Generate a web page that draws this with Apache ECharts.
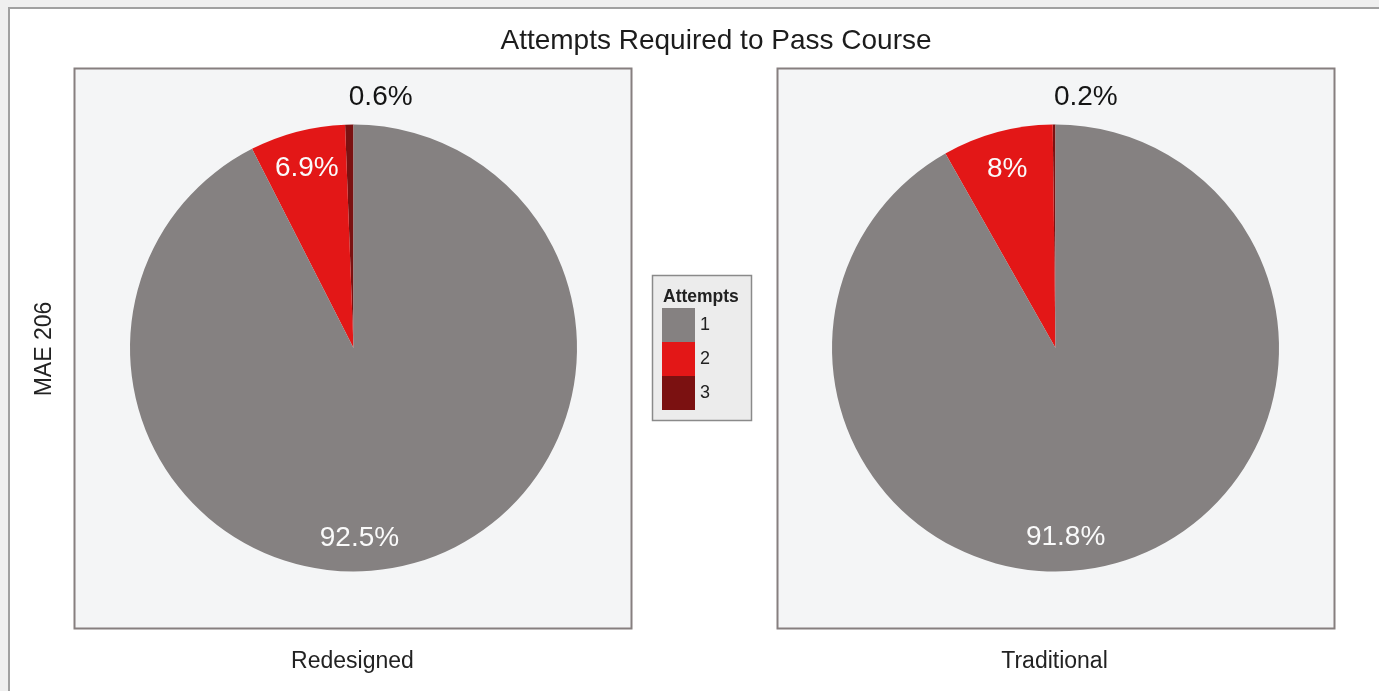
<!DOCTYPE html>
<html>
<head>
<meta charset="utf-8">
<script src="https://cdn.jsdelivr.net/npm/echarts@6/dist/echarts.min.js"></script>
<style>
  html, body { margin: 0; padding: 0; background: #efefef; }
  #chart { width: 1379px; height: 691px; }
</style>
</head>
<body>
<div id="chart"></div>
<script>
// Share of students (%) by number of attempts needed to pass MAE 206.
// Slice order runs counter-clockwise from 12 o'clock: 3 attempts, 2 attempts, 1 attempt.
const sliceNames = ['3', '2', '1'];
const legendOrder = ['1', '2', '3'];
const redesigned = [0.6, 6.9, 92.5];
const traditional = [0.2, 8, 91.8];
const panelNames = ['Redesigned', 'Traditional'];

// Layout / style constants
const FONT = 'Liberation Sans, Arial, sans-serif';
const COLORS = { '1': '#858181', '2': '#e31717', '3': '#7b1111' };
const PIE_R = 223.5;
const PIE_CENTERS = [[353.5, 348], [1055.5, 348]];
const LABEL_RADIUS = [1.12, 0.83, 0.875];      // per slice, as a fraction of the pie radius
const LABEL_ALIGN = ['left', 'center', 'right'];
const LABEL_COLOR = ['#141414', '#fafafa', '#fafafa'];

const seriesValues = [redesigned, traditional];

function labelAnchor(seriesIndex, dataIndex) {
  const vals = seriesValues[seriesIndex];
  const total = vals.reduce((a, b) => a + b, 0);
  let before = 0;
  for (let k = 0; k < dataIndex; k++) before += vals[k];
  const theta = (before + vals[dataIndex] / 2) / total * Math.PI * 2;
  const r = PIE_R * LABEL_RADIUS[dataIndex];
  const c = PIE_CENTERS[seriesIndex];
  return { x: c[0] - r * Math.sin(theta), y: c[1] - r * Math.cos(theta) };
}

function pieSeries(idx) {
  return {
    type: 'pie',
    name: panelNames[idx],
    center: PIE_CENTERS[idx],
    radius: PIE_R,
    startAngle: 90,
    clockwise: false,
    avoidLabelOverlap: false,
    silent: true,
    emphasis: { disabled: true },
    itemStyle: { borderWidth: 0 },
    label: {
      show: true,
      position: 'inside',
      formatter: '{c}%',
      fontFamily: FONT,
      fontSize: 28
    },
    labelLine: { show: false },
    labelLayout: function (p) {
      const a = labelAnchor(p.seriesIndex, p.dataIndex);
      return { x: a.x, y: a.y, align: LABEL_ALIGN[p.dataIndex], verticalAlign: 'middle' };
    },
    data: sliceNames.map((n, i) => ({
      name: n,
      value: seriesValues[idx][i],
      itemStyle: { color: COLORS[n] },
      label: { color: LABEL_COLOR[i] }
    }))
  };
}

const chart = echarts.init(document.getElementById('chart'), null, { renderer: 'canvas' });

const option = {
  animation: false,
  backgroundColor: '#efefef',
  title: {
    text: 'Attempts Required to Pass Course',
    left: 711,
    top: 22,
    textAlign: 'center',
    textStyle: { fontFamily: FONT, fontSize: 28, fontWeight: 'normal', color: '#1c1c1c' }
  },
  legend: {
    data: legendOrder,
    orient: 'vertical',
    left: 662,
    top: 308,
    padding: 0,
    itemGap: 0,
    itemWidth: 33,
    itemHeight: 34,
    icon: 'rect',
    selectedMode: false,
    textStyle: { fontFamily: FONT, fontSize: 18, color: '#222' }
  },
  graphic: [
    // page frame
    { type: 'rect', shape: { x: 9, y: 8, width: 1420, height: 720 },
      style: { fill: '#ffffff', stroke: '#a0a0a0', lineWidth: 2 }, z: -10 },
    // panels
    { type: 'rect', shape: { x: 74.5, y: 68.5, width: 557, height: 560 },
      style: { fill: '#f4f5f6', stroke: '#867f7f', lineWidth: 2 }, z: -5 },
    { type: 'rect', shape: { x: 777.5, y: 68.5, width: 557, height: 560 },
      style: { fill: '#f4f5f6', stroke: '#867f7f', lineWidth: 2 }, z: -5 },
    // legend box
    { type: 'rect', shape: { x: 652.5, y: 275.5, width: 99, height: 145 },
      style: { fill: '#ececec', stroke: '#8a8a8a', lineWidth: 1.5 }, z: -5 },
    { type: 'text', x: 663, y: 297,
      style: { text: 'Attempts', fontFamily: FONT, fontSize: 17.5, fontWeight: 'bold',
               fill: '#222', verticalAlign: 'middle', align: 'left' } },
    // panel labels
    { type: 'text', x: 45, y: 349, rotation: Math.PI / 2,
      style: { text: 'MAE 206', fontFamily: FONT, fontSize: 23, fill: '#222',
               align: 'center', verticalAlign: 'middle' } },
    { type: 'text', x: 352.5, y: 662,
      style: { text: panelNames[0], fontFamily: FONT, fontSize: 23, fill: '#222',
               align: 'center', verticalAlign: 'middle' } },
    { type: 'text', x: 1054.5, y: 662,
      style: { text: panelNames[1], fontFamily: FONT, fontSize: 23, fill: '#222',
               align: 'center', verticalAlign: 'middle' } }
  ],
  series: [pieSeries(0), pieSeries(1)]
};

chart.setOption(option);
</script>
</body>
</html>
